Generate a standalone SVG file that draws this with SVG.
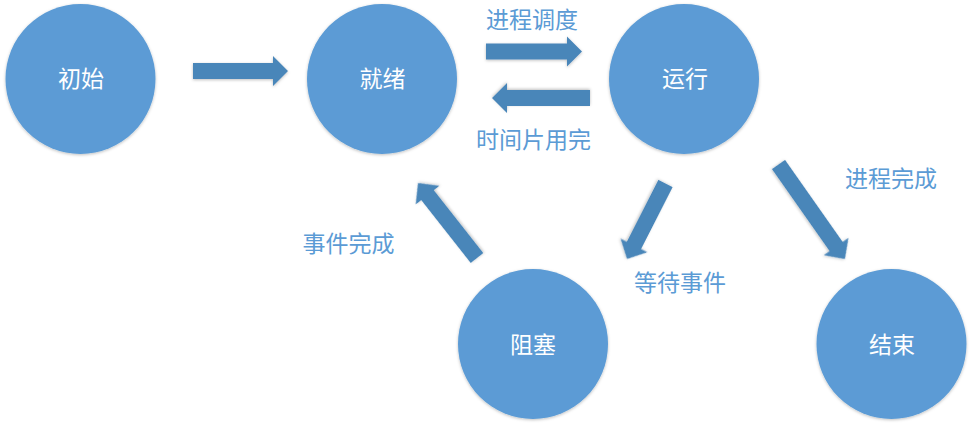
<svg xmlns="http://www.w3.org/2000/svg" width="973" height="428" viewBox="0 0 973 428">
<defs>
<filter id="sh" x="-20%" y="-20%" width="140%" height="140%">
<feDropShadow dx="0" dy="1" stdDeviation="1.5" flood-color="#000" flood-opacity="0.25"/>
</filter>
<style>
.node circle{fill:#5B9BD5;filter:url(#sh)}
.node text{fill:#fff;font-family:"Noto Sans CJK SC","Noto Sans",sans-serif;font-size:23px;text-anchor:middle}
.arrow{fill:#4A86B9;filter:url(#sh)}
.lbl{fill:#5B9BD5;font-family:"Noto Sans CJK SC","Noto Sans",sans-serif;font-size:23px;text-anchor:middle}
</style>
</defs>
<rect width="973" height="428" fill="#fff"/>
<g id="connectors">
<path class="arrow" transform="translate(193,71)" d="M0,-8 H80 V-15 L95,0 L80,15 V8 H0 Z"/>
<path class="arrow" transform="translate(486,51.5)" d="M0,-8 H81 V-15 L96,0 L81,15 V8 H0 Z"/>
<path class="arrow" transform="translate(590,98) rotate(180)" d="M0,-8 H83 V-15 L98,0 L83,15 V8 H0 Z"/>
<path class="arrow" transform="translate(477,258) rotate(-128.2)" d="M0,-8 H80 V-15 L95.4,0 L80,15 V8 H0 Z"/>
<path class="arrow" transform="translate(665.5,183.5) rotate(117)" d="M0,-8 H69.5 V-15 L84.7,0 L69.5,15 V8 H0 Z"/>
<path class="arrow" transform="translate(778.5,164.5) rotate(54.9)" d="M0,-8 H100.3 V-15 L115.5,0 L100.3,15 V8 H0 Z"/>
<text class="lbl" x="532" y="28">进程调度</text>
<text class="lbl" x="533.5" y="148">时间片用完</text>
<text class="lbl" x="348.5" y="252">事件完成</text>
<text class="lbl" x="680" y="291">等待事件</text>
<text class="lbl" x="891" y="187">进程完成</text>
</g>
<g id="node-init" class="node"><circle cx="80.5" cy="79" r="75"/><text x="81" y="87">初始</text></g>
<g id="node-ready" class="node"><circle cx="382" cy="79" r="75"/><text x="382.5" y="87">就绪</text></g>
<g id="node-running" class="node"><circle cx="684" cy="79" r="75"/><text x="685" y="87">运行</text></g>
<g id="node-blocked" class="node"><circle cx="533" cy="344" r="75"/><text x="533" y="353">阻塞</text></g>
<g id="node-end" class="node"><circle cx="891.5" cy="344" r="75"/><text x="892" y="353">结束</text></g>
</svg>
